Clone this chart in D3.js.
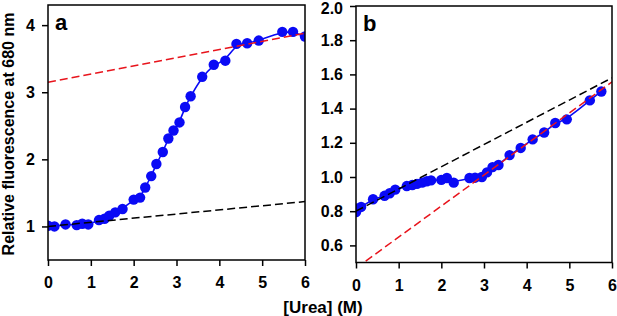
<!DOCTYPE html>
<html><head><meta charset="utf-8">
<script src="https://cdn.jsdelivr.net/npm/d3@7"></script>
<style>body{margin:0;background:#fff}svg{display:block}text{font-family:"Liberation Sans",Arial,sans-serif;font-weight:bold}</style>
</head><body><svg id="c" width="617" height="316"></svg>
<script>
// Panel a data: urea (M) vs relative fluorescence
const ureaA = [0,0.15,0.41,0.67,0.8,0.94,1.19,1.32,1.43,1.57,1.74,2.0,2.15,2.27,2.41,2.53,2.68,2.81,2.93,3.07,3.2,3.33,3.6,3.87,4.14,4.4,4.65,4.92,5.47,5.72,6.0];
const fluorA = [1.01,1.0,1.03,1.02,1.04,1.03,1.095,1.115,1.16,1.21,1.26,1.4,1.43,1.58,1.75,1.93,2.11,2.31,2.43,2.55,2.78,2.94,3.23,3.41,3.47,3.72,3.73,3.77,3.9,3.9,3.83];
// Panel b data
const ureaB = [0,0.02,0.12,0.4,0.67,0.79,0.92,1.19,1.32,1.43,1.55,1.66,1.76,2.0,2.13,2.29,2.66,2.79,2.95,3.07,3.2,3.34,3.6,3.86,4.14,4.41,4.67,4.94,5.48,5.75];
const fluorB = [0.795,0.815,0.825,0.87,0.89,0.905,0.926,0.947,0.953,0.96,0.967,0.975,0.98,0.983,0.994,0.967,0.994,0.996,1.0,1.027,1.058,1.07,1.128,1.17,1.22,1.26,1.316,1.337,1.448,1.5];
// Baselines (dashed): [x0, y0, x1, y1]
const baseAfolded = [0,1.0,6,1.37];
const baseAunfolded = [0,3.15,6,3.88];
const baseBfolded = [0,0.80,6,1.58];
const baseBunfolded = [0,0.467,6,1.556];
const xTicks = [0,1,2,3,4,5,6];
const yTicksA = [1,2,3,4];
const yTicksB = [0.6,0.8,1.0,1.2,1.4,1.6,1.8,2.0];

const svg = d3.select("#c");
const blue = "#0a0af5", red = "#e8141c";

function panel(opt){
  const {left,right,top,bottom,xd,yd,xs,ys,fmt,lines,letter,id} = opt;
  const x = d3.scaleLinear().domain(xd).range([left,right]);
  const y = d3.scaleLinear().domain(yd).range([bottom,top]);
  const g = svg.append("g");
  g.append("clipPath").attr("id",id).append("rect").attr("x",left).attr("y",top).attr("width",right-left).attr("height",bottom-top);
  const pg = g.append("g").attr("clip-path",`url(#${id})`);
  pg.append("path").datum(d3.zip(xs,ys)).attr("fill","none").attr("stroke",blue).attr("stroke-width",1.6)
    .attr("d",d3.line().x(d=>x(d[0])).y(d=>y(d[1])).curve(d3.curveBasis));
  pg.selectAll("circle").data(d3.zip(xs,ys)).join("circle")
    .attr("cx",d=>x(d[0])).attr("cy",d=>y(d[1])).attr("r",5.2).attr("fill",blue);
  lines.forEach(([b,col])=>{
    pg.append("line").attr("x1",x(b[0])).attr("y1",y(b[1])).attr("x2",x(b[2])).attr("y2",y(b[3]))
      .attr("stroke",col).attr("stroke-width",1.5).attr("stroke-dasharray","8,4");
  });
  g.append("rect").attr("x",left).attr("y",top).attr("width",right-left).attr("height",bottom-top)
    .attr("fill","none").attr("stroke","#000").attr("stroke-width",1.5);
  const xa = g.append("g").attr("transform",`translate(0,${bottom})`)
    .call(d3.axisBottom(x).tickValues(xTicks).tickSize(6).tickPadding(11).tickFormat(d3.format("d")));
  const ya = g.append("g").attr("transform",`translate(${left},0)`)
    .call(d3.axisLeft(y).tickValues(opt.yt).tickSize(6).tickPadding(7).tickFormat(fmt));
  [xa,ya].forEach(a=>{
    a.select(".domain").remove();
    a.selectAll("line").attr("stroke","#000").attr("stroke-width",1.5);
    a.selectAll("text").attr("font-size",16).attr("font-family","Liberation Sans, Arial, sans-serif").attr("font-weight","bold").attr("fill","#000");
  });
  // keep topmost y label inside the picture
  ya.selectAll(".tick text").filter(d=>y(d)-top<3 && top<8).attr("y",2);
  g.append("text").attr("x",left+7).attr("y",top+25).attr("font-size",22).text(letter);
}

panel({left:48,right:305,top:5,bottom:260,xd:[0,6],yd:[0.5,4.3],xs:ureaA,ys:fluorA,
  yt:yTicksA,fmt:d3.format("d"),lines:[[baseAfolded,"#000"],[baseAunfolded,red]],letter:"a",id:"ca"});
panel({left:356,right:612,top:6,bottom:262.5,xd:[0,6],yd:[0.5,2.0],xs:ureaB,ys:fluorB,
  yt:yTicksB,fmt:d3.format(".1f"),lines:[[baseBfolded,"#000"],[baseBunfolded,red]],letter:"b",id:"cb"});

svg.append("text").attr("x",323).attr("y",313).attr("text-anchor","middle").attr("font-size",17).text("[Urea] (M)");
svg.append("text").attr("transform","translate(14,134) rotate(-90)").attr("text-anchor","middle").attr("font-size",16).text("Relative fluorescence at 680 nm");
</script></body></html>
